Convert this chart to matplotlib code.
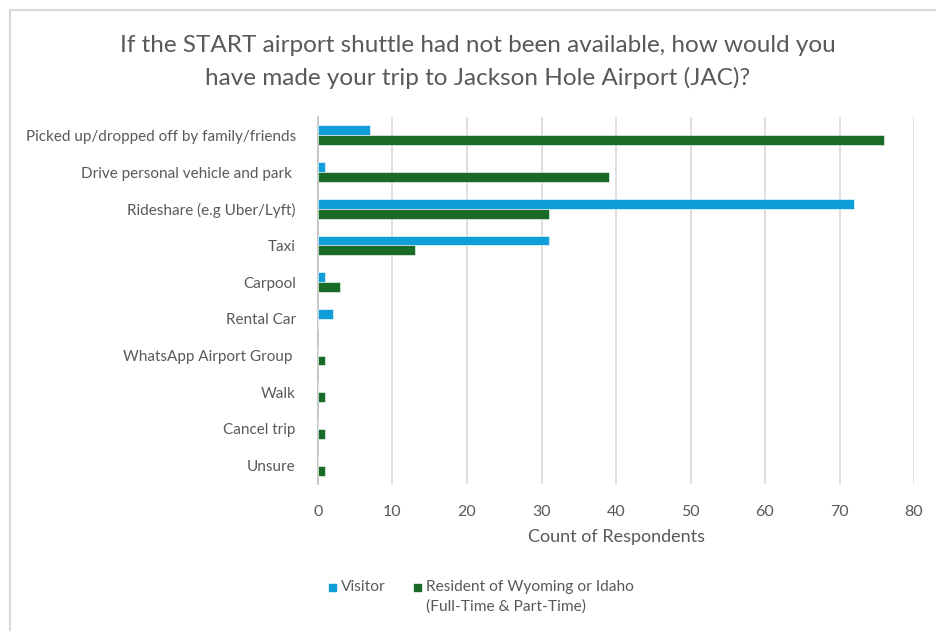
import matplotlib
matplotlib.use("Agg")
import matplotlib.pyplot as plt
from matplotlib.patches import Rectangle
import numpy as np

categories = [
    "Picked up/dropped off by family/friends",
    "Drive personal vehicle and park ",
    "Rideshare (e.g Uber/Lyft)",
    "Taxi",
    "Carpool",
    "Rental Car",
    "WhatsApp Airport Group ",
    "Walk",
    "Cancel trip",
    "Unsure",
]
visitor = [7, 1, 72, 31, 1, 2, 0, 0, 0, 0]
resident = [76, 39, 31, 13, 3, 0, 1, 1, 1, 1]
series_names = ["Visitor", "Resident of Wyoming or Idaho\n(Full-Time & Part-Time)"]
xticks = [0, 10, 20, 30, 40, 50, 60, 70, 80]

c_vis = "#0f9ed8"
c_res = "#1b6b28"
txt = "#595959"
font = "Lato"
plt.rcParams["font.family"] = [font, "DejaVu Sans"]

fig = plt.figure(figsize=(9.37, 6.31), dpi=100)
fig.patches.append(Rectangle((10/937, -0.1), 1.1, 1 - 10/631 + 0.1, transform=fig.transFigure,
                             fill=False, edgecolor="#d9d9d9", linewidth=1.5))

ax = fig.add_axes([318/937, 1 - 484/631, (914 - 318)/937, (484 - 117)/631])
y = np.arange(len(categories))
h = 0.27
ax.barh(y - h/2, visitor, height=h, color=c_vis, edgecolor="white", linewidth=0.4, zorder=3)
ax.barh(y + h/2, resident, height=h, color=c_res, edgecolor="white", linewidth=0.4, zorder=3)
ax.set_ylim(len(categories) - 0.5, -0.5)
ax.set_xlim(0, 80)
ax.set_xticks(xticks)
ax.set_yticks(y)
ax.set_yticklabels(categories, fontsize=11, color=txt)
ax.tick_params(axis="x", length=0, pad=15, labelsize=11.5, labelcolor=txt)
ax.tick_params(axis="y", length=0, pad=16)
ax.grid(axis="x", color="#d9d9d9", linewidth=1.2, zorder=0)
for s in ["top", "right", "bottom"]:
    ax.spines[s].set_visible(False)
ax.spines["left"].set_color("#bfbfbf")
ax.spines["left"].set_linewidth(1.2)
ax.set_xlabel("Count of Respondents", fontsize=13, color=txt, labelpad=7)

fig.text(478/937, 1 - 45/631, "If the START airport shuttle had not been available, how would you",
         ha="center", va="center", fontsize=17.5, color=txt)
fig.text(478/937, 1 - 78/631, "have made your trip to Jackson Hole Airport (JAC)?",
         ha="center", va="center", fontsize=17.5, color=txt)

# legend
sq = 7
fig.patches.append(Rectangle((329/937, 1 - 591/631), sq/937, sq/631, transform=fig.transFigure,
                             color=c_vis))
fig.text(341/937, 1 - 587/631, series_names[0], ha="left", va="center", fontsize=11.2, color=txt)
fig.patches.append(Rectangle((414/937, 1 - 591/631), sq/937, sq/631, transform=fig.transFigure,
                             color=c_res))
lines = series_names[1].split("\n")
fig.text(426/937, 1 - 587/631, lines[0], ha="left", va="center", fontsize=11.2, color=txt)
fig.text(426/937, 1 - 607/631, lines[1], ha="left", va="center", fontsize=11.2, color=txt)

fig.savefig("out.png", dpi=100)
